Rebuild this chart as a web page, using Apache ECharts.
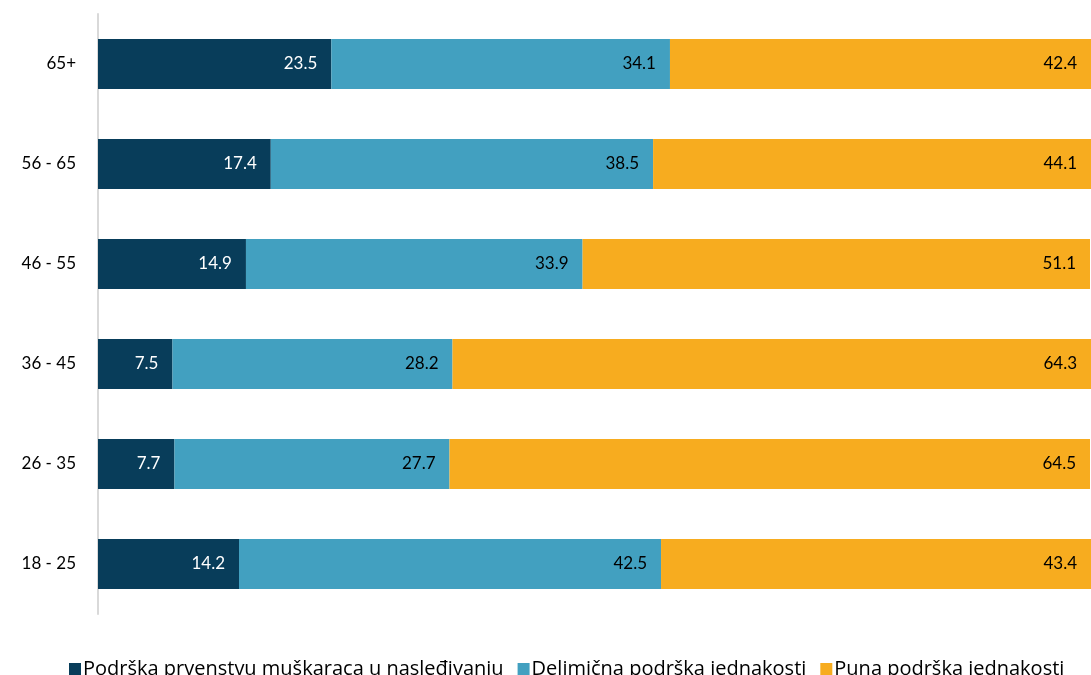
<!DOCTYPE html>
<html>
<head>
<meta charset="utf-8">
<script src="https://cdn.jsdelivr.net/npm/echarts@6/dist/echarts.min.js"></script>
<style>
  html, body { margin: 0; padding: 0; background: #fff; }
  #chart { width: 1091px; height: 675px; }
</style>
</head>
<body>
<div id="chart"></div>
<script>
// starosne grupe, odozdo prema gore
const categories = ['18 - 25', '26 - 35', '36 - 45', '46 - 55', '56 - 65', '65+'];
const prvenstvo = [14.2, 7.7, 7.5, 14.9, 17.4, 23.5];
const delimicna = [42.5, 27.7, 28.2, 33.9, 38.5, 34.1];
const puna = [43.4, 64.5, 64.3, 51.1, 44.1, 42.4];
const seriesNames = ['Podrška prvenstvu muškaraca u nasleđivanju', 'Delimična podrška jednakosti', 'Puna podrška jednakosti'];

const font = 'Lato, "Open Sans", sans-serif';

const myChart = echarts.init(document.getElementById('chart'));

const bar = (name, data, color, labelColor) => ({
  name: name,
  type: 'bar',
  stack: 'total',
  data: data,
  barWidth: 50,
  itemStyle: { color: color },
  label: {
    show: true,
    position: 'insideRight',
    distance: 14,
    color: labelColor,
    fontFamily: font,
    fontSize: 17,
    formatter: p => p.value.toFixed(1)
  }
});

myChart.setOption({
  animation: false,
  legend: {
    top: 654,
    left: 64,
    itemWidth: 12,
    itemHeight: 12,
    itemGap: 14,
    icon: 'rect',
    textStyle: { fontFamily: '"Open Sans", sans-serif', fontSize: 20, color: '#000', padding: [0, 0, 0, -3] },
    data: seriesNames
  },
  grid: { left: 98, top: 14, width: 1006, height: 600, containLabel: false },
  xAxis: {
    type: 'value',
    min: 0,
    max: 100,
    show: false
  },
  yAxis: {
    type: 'category',
    data: categories,
    axisLine: { show: true, lineStyle: { color: '#d9d9d9', width: 2 } },
    axisTick: { show: false },
    axisLabel: { color: '#000', fontFamily: font, fontSize: 17, margin: 22 }
  },
  series: [
    bar(seriesNames[0], prvenstvo, '#083D5A', '#fff'),
    bar(seriesNames[1], delimicna, '#42A0C0', '#000'),
    bar(seriesNames[2], puna, '#F7AC1F', '#000')
  ]
});
</script>
</body>
</html>
